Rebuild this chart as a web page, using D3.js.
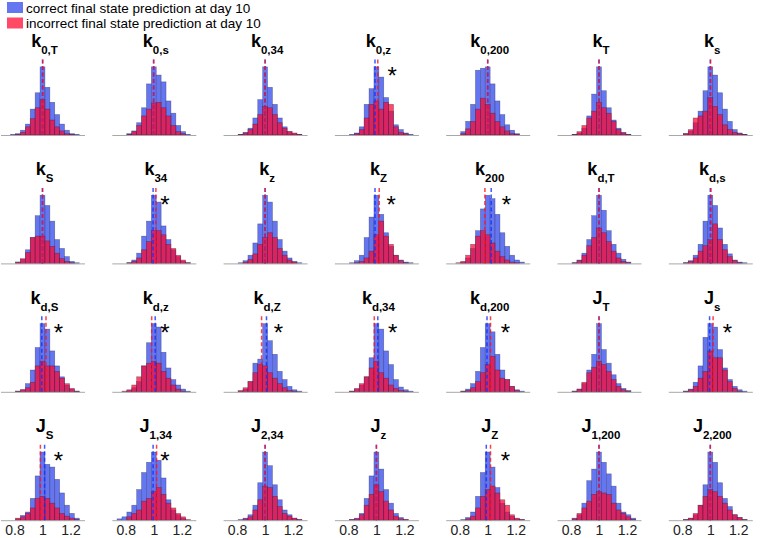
<!DOCTYPE html>
<html>
<head>
<meta charset="utf-8">
<script src="https://cdn.jsdelivr.net/npm/d3@7"></script>
<style>
  body { margin: 0; background: #fff; }
  svg { display: block; font-family: "Liberation Sans", Arial, sans-serif; }
</style>
</head>
<body>
<div id="vis"></div>
<script>
// panel labels (main letter + subscript), row by row
const titleMain = ['k','k','k','k','k','k','k',
                   'k','k','k','k','k','k','k',
                   'k','k','k','k','k','J','J',
                   'J','J','J','J','J','J','J'];
const titleSub = ['0,T','0,s','0,34','0,z','0,200','T','s',
                  'S','34','z','Z','200','d,T','d,s',
                  'd,S','d,z','d,Z','d,34','d,200','T','s',
                  'S','1,34','2,34','z','Z','1,200','2,200'];

// histogram bins (parameter ratio), same for every panel
const binLo = 0.7375;
const binWidth = 0.035;
const tickValues = [0.8, 1, 1.2];

// counts: correct prediction (blue)
const blueCounts = [
  [0,1,2,7,16,38,62,100,70,48,30,16,7,2,1],
  [0,0,2,6,18,40,75,100,88,78,50,32,14,5,1],
  [0,0,1,4,10,25,52,100,70,45,25,12,5,2,1],
  [0,0,1,3,12,45,68,100,85,55,35,15,8,3,1],
  [0,0,5,20,45,95,98,100,75,50,30,15,7,2,0],
  [0,0,1,3,10,28,60,100,65,40,22,10,4,1,0],
  [0,0,2,6,18,35,65,100,88,62,38,20,8,3,1],

  [0,0,2,6,20,38,70,100,85,62,35,22,10,3,1],
  [0,0,1,5,15,40,62,100,90,55,35,20,10,3,1],
  [0,0,1,4,12,30,58,100,90,62,35,18,8,3,1],
  [0,0,1,4,12,38,68,100,72,45,25,12,5,2,1],
  [0,0,2,8,22,48,80,100,95,72,45,25,12,5,2],
  [0,0,1,5,15,35,70,100,78,48,28,15,6,2,0],
  [0,0,1,4,12,28,62,100,85,52,28,14,5,2,1],

  [0,0,1,3,12,32,65,100,92,60,38,22,10,4,1],
  [0,0,2,6,15,38,72,100,95,58,35,18,10,4,1],
  [0,0,1,4,15,42,48,100,75,55,30,18,8,3,1],
  [0,0,1,4,10,22,50,100,92,60,40,18,7,3,1],
  [0,0,1,4,12,30,65,100,88,55,32,18,8,3,1],
  [0,0,1,4,12,32,55,100,62,42,25,12,5,2,0],
  [0,0,1,4,14,38,80,100,95,62,35,18,8,3,1],

  [0,0,2,7,12,32,65,100,82,78,60,40,22,10,3],
  [2,5,12,22,45,70,85,100,88,62,30,15,8,3,0],
  [0,0,1,3,8,22,55,100,80,52,30,15,8,3,1],
  [0,0,1,3,10,32,65,100,75,45,25,10,4,1,0],
  [0,0,1,4,12,35,70,100,78,48,25,12,6,2,1],
  [0,0,3,8,25,58,75,100,85,68,50,25,12,8,3],
  [0,0,1,3,8,22,52,100,85,55,32,20,8,4,1]
];

// counts: incorrect prediction (red)
const redCounts = [
  [0,0,1,4,12,24,40,52,38,22,12,6,2,1,0],
  [0,0,1,5,14,28,38,47,48,40,28,14,5,2,0],
  [0,0,1,3,8,16,30,42,40,30,18,10,5,3,1],
  [0,0,0,2,8,25,45,50,38,48,45,12,4,2,0],
  [0,0,2,9,20,38,54,45,32,20,12,6,2,1,0],
  [0,0,1,5,14,25,35,48,40,32,20,8,3,1,0],
  [0,0,2,8,25,28,35,55,42,30,15,8,4,2,1],

  [0,0,2,7,16,38,40,40,33,25,15,7,3,1,0],
  [0,0,1,3,8,20,32,48,48,42,28,22,12,5,1],
  [0,0,0,2,6,14,28,38,45,38,22,12,5,2,0],
  [0,0,0,1,3,8,18,42,62,40,28,12,4,1,0],
  [0,1,3,12,28,40,48,42,30,18,10,5,2,1,0],
  [0,0,1,4,12,26,38,52,45,32,18,8,3,1,0],
  [0,0,1,3,8,18,26,35,58,35,20,10,4,1,0],

  [0,0,1,3,6,14,38,45,38,38,30,20,12,5,1],
  [0,1,3,10,22,38,42,45,42,30,20,10,4,1,0],
  [0,0,2,6,15,28,40,38,28,20,12,6,2,1,0],
  [0,0,1,5,12,22,35,45,28,20,10,5,2,1,0],
  [0,0,1,2,6,15,28,40,52,32,20,18,8,2,0],
  [0,0,1,4,14,28,36,45,40,30,18,8,3,1,0],
  [0,0,1,3,8,20,30,60,50,50,32,15,5,1,0],

  [0,0,3,5,10,18,32,35,32,25,18,10,6,3,1],
  [0,0,5,10,15,28,32,42,48,38,25,18,10,5,1],
  [0,0,0,2,5,15,30,50,48,35,20,10,6,3,1],
  [0,0,1,2,8,22,38,52,42,28,15,6,2,1,0],
  [0,0,0,2,6,18,35,45,50,40,30,22,8,3,1],
  [0,0,2,10,18,28,38,42,40,38,25,15,10,5,1],
  [0,0,1,3,10,22,35,45,42,35,25,15,8,4,1]
];

// means of each group (dashed lines)
const blueMeans = [1.0,0.998,1.0,0.99,1.0,1.0,1.0,
                   1.0,0.995,1.0,0.99,1.025,1.0,1.0,
                   0.995,1.01,1.01,1.01,0.995,1.0,0.995,
                   1.015,0.995,1.0,1.0,0.99,1.0,1.0];
const redMeans  = [1.002,1.0,1.0,1.01,1.0,1.0,1.002,
                   1.0,1.015,1.0,1.02,0.98,1.0,1.005,
                   1.025,0.985,0.975,0.985,1.02,1.0,1.02,
                   0.985,1.02,1.0,1.0,1.02,1.0,1.0];

// significance stars (x position in data units, null = none)
const starX = [null,null,null,1.113,null,null,null,
               null,1.079,null,1.106,1.133,null,null,
               1.113,1.079,1.095,1.116,1.126,null,1.122,
               1.113,1.079,null,null,1.126,null,null];

const legendLabels = ['correct final state prediction at day 10',
                      'incorrect final state prediction at day 10'];

const W = 762, H = 538;
const nCols = 7;
const colStep = 111.3, rowStep = 128.4;
const axW = 84, axH = 77;
const blueFill = 'rgb(100,118,240)';
const redFill = 'rgb(255,10,50)';
const redAlpha = 0.74;

let svg = d3.select('#vis')
  .append('svg')
    .attr('width', W)
    .attr('height', H)
    .attr('viewBox', [0, 0, W, H].join(' '));

// legend
legendLabels.forEach(function(lbl, i) {
  let y = 2 + i * 15.5;
  svg.append('rect')
    .attr('x', 7).attr('y', y)
    .attr('width', 16).attr('height', 11)
    .attr('fill', i === 0 ? blueFill : redFill)
    .attr('fill-opacity', i === 0 ? 1 : redAlpha);
  svg.append('text')
    .attr('x', 26).attr('y', y + 10.5)
    .style('font-size', '13.5px')
    .attr('fill', '#000')
    .text(lbl);
});

titleMain.forEach(function(t, p) {
  let row = Math.floor(p / nCols), col = p % nCols;
  let x0 = 0.5 + col * colStep;
  let base = 135 + row * rowStep;

  let xScale = d3.scaleLinear()
    .domain([0.7, 1.3])
    .range([x0, x0 + axW]);

  let maxCount = d3.max(blueCounts[p].concat(redCounts[p]));
  let yScale = d3.scaleLinear()
    .domain([0, maxCount / 0.885])
    .range([base, base - axH]);

  let g = svg.append('g');

  // blue histogram first, red on top
  [[blueCounts[p], blueFill, 1], [redCounts[p], redFill, redAlpha]].forEach(function(s) {
    g.append('g')
      .selectAll('rect')
      .data(s[0])
      .enter()
      .append('rect')
        .attr('x', (d, i) => xScale(binLo + i * binWidth))
        .attr('y', d => yScale(d))
        .attr('width', xScale(binLo + binWidth) - xScale(binLo))
        .attr('height', d => base - yScale(d))
        .attr('fill', s[1])
        .attr('fill-opacity', s[2])
        .attr('stroke', '#1a1a40')
        .attr('stroke-opacity', d => d > 0 ? 0.45 : 0)
        .attr('stroke-width', 0.6);
  });

  // axis
  let axis = d3.axisBottom(xScale)
    .tickValues(row === 3 ? tickValues : [])
    .tickSize(0)
    .tickPadding(5)
    .tickFormat(d => d);
  let ax = g.append('g')
    .attr('transform', `translate(0,${base})`)
    .call(axis);
  ax.select('.domain').attr('stroke', '#a8a8a8').attr('stroke-width', 1);
  ax.selectAll('text')
    .style('font-size', '14px')
    .style('font-family', '"Liberation Sans", Arial, sans-serif')
    .attr('fill', '#222');

  // mean lines
  [[blueMeans[p], '#1030ff'], [redMeans[p], '#ff1020']].forEach(function(m) {
    g.append('line')
      .attr('x1', xScale(m[0])).attr('x2', xScale(m[0]))
      .attr('y1', yScale(0)).attr('y2', yScale(maxCount / 0.885))
      .attr('stroke', m[1])
      .attr('stroke-opacity', 0.8)
      .attr('stroke-width', 1.5)
      .attr('stroke-dasharray', '4,2.5');
  });

  // title
  let title = g.append('text')
    .attr('x', xScale(1) + 2)
    .attr('y', base - 88)
    .attr('text-anchor', 'middle')
    .style('font-weight', 'bold')
    .attr('fill', '#000');
  title.append('tspan').style('font-size', '18px').text(t);
  title.append('tspan').style('font-size', '11.5px').attr('dy', 7).text(titleSub[p]);

  // star
  if (starX[p] !== null) {
    g.append('text')
      .attr('x', xScale(starX[p]))
      .attr('y', yScale(0.95 * maxCount) + 14)
      .attr('text-anchor', 'middle')
      .style('font-size', '24px')
      .attr('fill', '#000')
      .text('*');
  }
});
</script>
</body>
</html>
